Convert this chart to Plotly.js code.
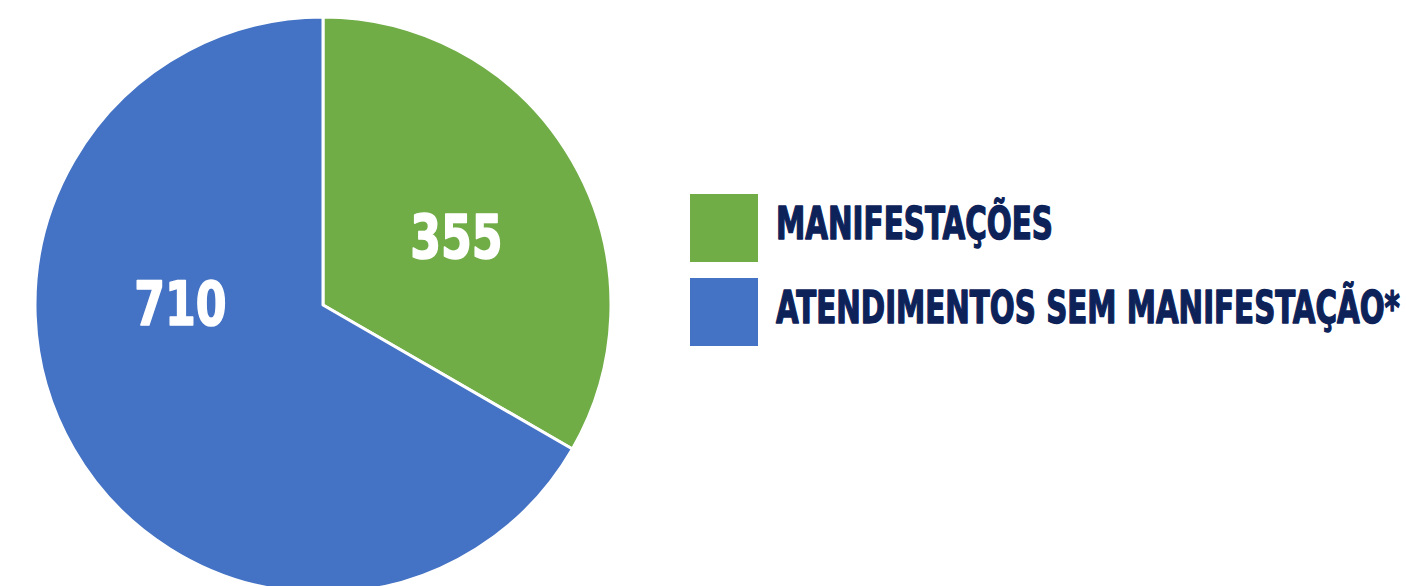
<!DOCTYPE html>
<html>
<head>
<meta charset="utf-8">
<script src="https://cdn.plot.ly/plotly-3.0.1.min.js"></script>
<style>
  html, body { margin: 0; padding: 0; overflow: hidden; background: #ffffff; }
  #chart { width: 1407px; height: 600px; }
</style>
</head>
<body>
<div id="chart"></div>
<script>
const labels = ["MANIFESTAÇÕES", "ATENDIMENTOS SEM MANIFESTAÇÃO*"];
const values = [355, 710];
const colors = ["#70AD47", "#4472C4"];

const W = 1407, H = 600;
const px = x => x / W;
const py = y => 1 - y / H;

const textFont = "DejaVu Sans Condensed, DejaVu Sans, sans-serif";
const navy = "#0C2259";

const trace = {
  type: "pie",
  labels: labels,
  values: values,
  sort: false,
  direction: "clockwise",
  rotation: 0,
  marker: { colors: colors, line: { color: "#ffffff", width: 3 } },
  textinfo: "none",
  hoverinfo: "label+value",
  domain: { x: [px(35), px(611)], y: [py(593), py(17)] },
  showlegend: false
};

// value labels inside slices
const valuePos = [[456, 237], [180, 304]];
const annotations = [];
const textStyle = [];   // horizontal condensing and stroke weight per annotation
values.forEach((v, i) => {
  annotations.push({
    text: "<b>" + v + "</b>",
    xref: "paper", yref: "paper",
    x: px(valuePos[i][0]), y: py(valuePos[i][1]),
    xanchor: "center", yanchor: "middle",
    showarrow: false,
    font: { family: textFont, size: 60, color: "#ffffff" }
  });
  textStyle.push({ anchor: "center", ratio: 0.82, stroke: "#ffffff", sw: 1.6 });
});

// custom legend with large swatches
const legendY = [228, 312];
const legendWidths = [277, 624];
const shapes = [];
labels.forEach((lab, i) => {
  shapes.push({
    type: "rect", xref: "paper", yref: "paper",
    x0: px(690), x1: px(758), y0: py(legendY[i] + 34), y1: py(legendY[i] - 34),
    fillcolor: colors[i], line: { width: 0 }
  });
  annotations.push({
    text: "<b>" + lab + "</b>",
    xref: "paper", yref: "paper",
    x: px(774), y: py(legendY[i] - 5),
    xanchor: "left", yanchor: "middle",
    showarrow: false,
    font: { family: textFont, size: 44, color: navy }
  });
  textStyle.push({ anchor: "left", width: legendWidths[i], stroke: navy, sw: 1.4 });
});

const layout = {
  width: W, height: H,
  margin: { l: 0, r: 0, t: 0, b: 0 },
  paper_bgcolor: "#ffffff",
  plot_bgcolor: "#ffffff",
  showlegend: false,
  annotations: annotations,
  shapes: shapes
};

Plotly.newPlot("chart", [trace], layout, { displayModeBar: false, staticPlot: true }).then(gd => {
  // condense annotation text horizontally to mimic the narrow heavy typeface
  gd.querySelectorAll("g.annotation").forEach(g => {
    const idx = +g.getAttribute("data-index");
    const spec = textStyle[idx];
    const t = g.querySelector("text.annotation-text");
    if (!spec || !t) return;
    const bb = t.getBBox();
    const s = spec.width ? spec.width / bb.width : spec.ratio;
    const cx = spec.anchor === "left" ? bb.x : bb.x + bb.width / 2;
    const prev = t.getAttribute("transform") || "";
    t.setAttribute("transform", prev + " translate(" + cx + ",0) scale(" + s + ",1) translate(" + (-cx) + ",0)");
    t.style.stroke = spec.stroke;
    t.style.strokeWidth = spec.sw + "px";
    t.style.strokeLinejoin = "round";
  });
});
</script>
</body>
</html>
